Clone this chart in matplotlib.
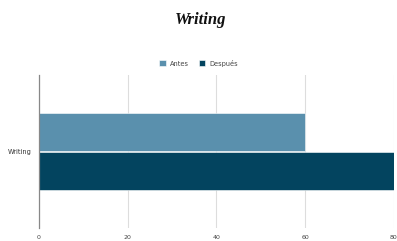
import matplotlib
matplotlib.use("Agg")
import matplotlib.pyplot as plt
import numpy as np

categories = ["Writing"]
antes = [60]
despues = [80]
x_ticks = [0, 20, 40, 60, 80]

fig = plt.figure(figsize=(3.97, 2.41), dpi=100)
ax = fig.add_axes([0.098, 0.054, 0.894, 0.635])

y = np.arange(len(categories))
h = 0.245
ax.barh(y + h / 2 + 0.005, antes, height=h, color="#5a90ad", edgecolor="#ffffff", linewidth=0.4, label="Antes")
ax.barh(y - h / 2 - 0.005, despues, height=h, color="#03445f", edgecolor="#ffffff", linewidth=0.4, label="Después")

ax.set_xlim(0, 80)
ax.set_ylim(-0.5, 0.5)
ax.set_xticks(x_ticks)
ax.set_xticklabels([str(t) for t in x_ticks], fontsize=4.5, color="#444444")
ax.set_yticks(y)
ax.set_yticklabels(categories, fontsize=4.8, color="#333333")
ax.tick_params(length=0, pad=5)
ax.grid(axis="x", color="#dddddd", linewidth=0.8)
ax.set_axisbelow(True)
for s in ["top", "right", "bottom"]:
    ax.spines[s].set_visible(False)
ax.spines["left"].set_color("#888888")
ax.spines["left"].set_linewidth(0.9)

fig.text(0.505, 0.915, "Writing", ha="center", va="center", fontsize=12,
         family="Liberation Serif", style="italic", weight="bold", color="#111111")
fig.legend(loc="center", bbox_to_anchor=(0.5, 0.738), ncol=2, frameon=False,
           fontsize=4.8, handlelength=1.0, handleheight=1.0, columnspacing=1.5,
           handletextpad=0.6, labelcolor="#444444")

fig.savefig("out.png", dpi=100)
